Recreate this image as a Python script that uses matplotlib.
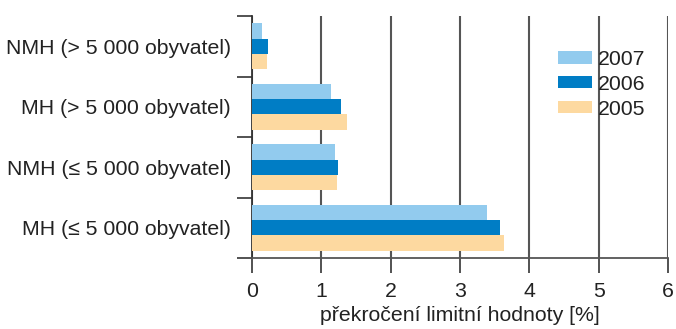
import numpy as np
import matplotlib
matplotlib.use('Agg')
from matplotlib import pyplot as plt

categories = ['NMH (> 5 000 obyvatel)', 'MH (> 5 000 obyvatel)',
              'NMH (≤ 5 000 obyvatel)', 'MH (≤ 5 000 obyvatel)']
years = ['2007', '2006', '2005']
values_2007 = [0.14, 1.14, 1.20, 3.39]
values_2006 = [0.23, 1.28, 1.24, 3.58]
values_2005 = [0.22, 1.37, 1.23, 3.63]
colors = ['#92CBEE', '#007DC5', '#FDD9A0']

plt.rcParams['font.family'] = ['Liberation Sans', 'DejaVu Sans']
fs = 15.3

fig = plt.figure(figsize=(6.76, 3.29), dpi=100)
ax = fig.add_axes([252 / 676, 1 - 258 / 329, 416 / 676, 242 / 329])

y = np.arange(len(categories))
h = 0.256
for i, (vals, year) in enumerate(zip([values_2007, values_2006, values_2005], years)):
    ax.barh(y + (i - 1) * h, vals, height=h, color=colors[i], label=year, zorder=3)

ax.set_xlim(0, 6)
ax.set_ylim(len(categories) - 0.5, -0.5)
ax.set_xticks(range(0, 7))
ax.tick_params(axis='x', direction='out', length=11, width=1.3, color='#444444',
               labelsize=fs, pad=6, labelcolor='#222222')
ax.set_yticks(y)
ax.set_yticklabels(categories)
ax.tick_params(axis='y', which='major', length=0, labelsize=fs, pad=15, labelcolor='#222222')
ax.set_yticks(np.arange(-0.5, len(categories)), minor=True)
ax.tick_params(axis='y', which='minor', length=11, width=1.3, color='#444444')

ax.grid(axis='x', color='#555555', linewidth=1.5, zorder=1)
for s in ['top', 'right']:
    ax.spines[s].set_visible(False)
ax.spines['left'].set_color('#333333')
ax.spines['left'].set_linewidth(1.3)
ax.spines['bottom'].set_color('#555555')
ax.spines['bottom'].set_linewidth(1.3)

ax.set_xlabel('překročení limitní hodnoty [%]', fontsize=fs, labelpad=4, color='#222222')

leg = ax.legend(loc='upper left', bbox_to_anchor=(0.69, 0.94), frameon=False, fontsize=fs,
                handlelength=1.6, handleheight=0.55, handletextpad=0.25, labelspacing=0.28)
for t in leg.get_texts():
    t.set_color('#222222')

fig.savefig('out.png', dpi=100)
